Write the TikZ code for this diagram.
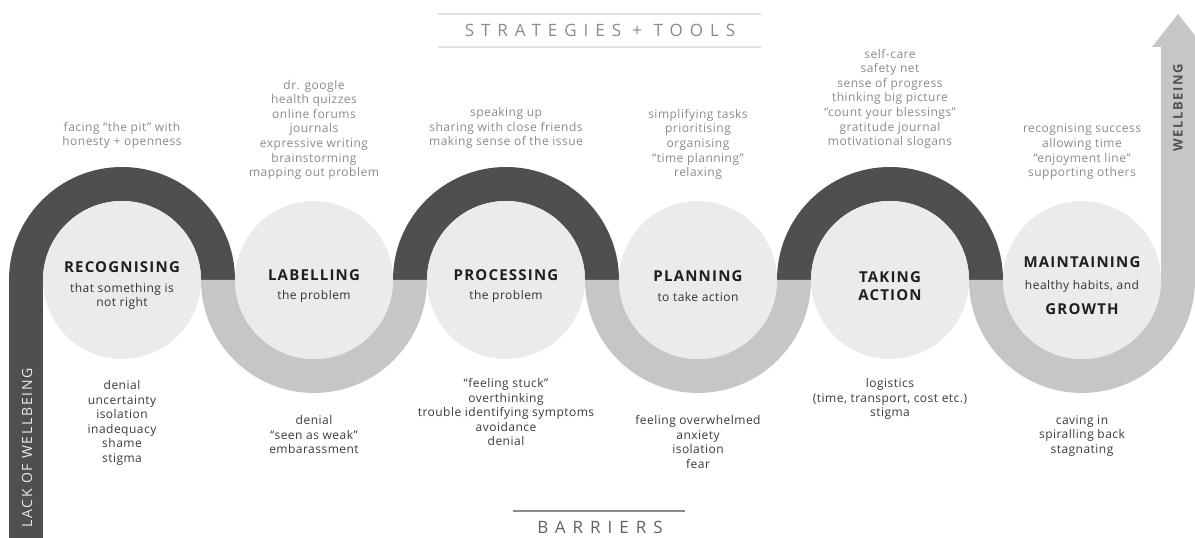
\documentclass[tikz,border=0pt]{standalone}
\usepackage{fontspec}
\setmainfont{Open Sans}[LetterSpace=4]
\newfontfamily\titlefont[LetterSpace=8]{Open Sans}
\newfontfamily\bannerfont[LetterSpace=41]{Open Sans}
\newfontfamily\sidefont[LetterSpace=12]{Open Sans}
\usetikzlibrary{positioning, backgrounds}

\definecolor{bandDark}{HTML}{4F4F4F}
\definecolor{bandLight}{HTML}{C6C6C6}
\definecolor{stageFill}{HTML}{EBEBEB}
\definecolor{toolText}{HTML}{8A8A8A}
\definecolor{barrierText}{HTML}{3A3A3A}
\definecolor{subText}{HTML}{333333}
\definecolor{ruleLight}{HTML}{E3E3E3}
\definecolor{ruleDark}{HTML}{8C8C8C}

\newcommand{\stagetitle}[1]{{\titlefont\fontsize{15}{16}\selectfont\bfseries\color{black!88}#1}}

\begin{document}
\begin{tikzpicture}[x=1pt, y=1pt, node distance={192pt},
    stage/.style = {circle, fill=stageFill, minimum size=158pt, inner sep=0pt},
    caption/.style = {align=center, yshift=-6pt, text=subText, font=\fontsize{12}{14.5}\selectfont},
    tools/.style = {align=center, inner sep=0pt, text=toolText, font=\fontsize{12}{14.6}\selectfont},
    barrier/.style = {align=center, inner sep=0pt, text=barrierText, font=\fontsize{12}{14.6}\selectfont},
    banner/.style = {font=\bannerfont\fontsize{17}{17}\selectfont}]
    \useasboundingbox (0,0) rectangle (1195,538);
    \clip (0,0) rectangle (1195,538);

    % the six stages
    \node[stage, label={[caption]center:{\stagetitle{RECOGNISING}\\[5pt]that something is\\not right}}] (recog) at (122,258) {};
    \node[stage, label={[caption]center:{\stagetitle{LABELLING}\\[5pt]the problem}}] (label) [right of=recog] {};
    \node[stage, label={[caption]center:{\stagetitle{PROCESSING}\\[5pt]the problem}}] (proc) [right of=label] {};
    \node[stage, label={[caption]center:{\stagetitle{PLANNING}\\[5pt]to take action}}] (plan) [right of=proc] {};
    \node[stage, label={[caption]center:{\stagetitle{TAKING}\\[3pt]\stagetitle{ACTION}}}] (act) [right of=plan] {};
    \node[stage, label={[caption]center:{\stagetitle{MAINTAINING}\\[7pt]healthy habits, and\\[11pt]\stagetitle{GROWTH}}}] (grow) [right of=act] {};

    % the path winding over and under the stages
    \begin{scope}[on background layer]
        \foreach \s in {recog, proc, act}
            \fill[bandDark] ([xshift=113pt]\s.center) arc[start angle=0, end angle=180, radius=113] -- ++(34,0) arc[start angle=180, end angle=0, radius=79] -- cycle;
        \foreach \s in {label, plan, grow}
            \fill[bandLight] ([xshift=-113pt]\s.center) arc[start angle=180, end angle=360, radius=113] -- ++(-34,0) arc[start angle=0, end angle=-180, radius=79] -- cycle;
        \fill[bandDark] ([xshift=-113pt]recog.center) rectangle ++(34,-260);
        \fill[bandLight] ([xshift=79pt]grow.center) -- ++(0,233) -- ++(-9,0) -- ++(26,33) -- ++(26,-33) -- ++(-9,0) -- ++(0,-233) -- cycle;
    \end{scope}

    % strategies above
    \node[tools, above=52pt of recog] (recogTools) {facing “the pit” with\\honesty + openness};
    \node[tools, above=21pt of label] (labelTools) {dr. google\\health quizzes\\online forums\\journals\\expressive writing\\brainstorming\\mapping out problem};
    \node[tools, above=52pt of proc] (procTools) {speaking up\\sharing with close friends\\making sense of the issue};
    \node[tools, above=21pt of plan] (planTools) {simplifying tasks\\prioritising\\organising\\“time planning”\\relaxing};
    \node[tools, above=52pt of act] (actTools) {self-care\\safety net\\sense of progress\\thinking big picture\\“count your blessings”\\gratitude journal\\motivational slogans};
    \node[tools, above=21pt of grow] (growTools) {recognising success\\allowing time\\“enjoyment line”\\supporting others};

    % barriers below
    \node[barrier, below=21pt of recog] (recogBar) {denial\\uncertainty\\isolation\\inadequacy\\shame\\stigma};
    \node[barrier, below=56pt of label] (labelBar) {denial\\“seen as weak”\\embarassment};
    \node[barrier, below=19pt of proc] (procBar) {“feeling stuck”\\overthinking\\trouble identifying symptoms\\avoidance\\denial};
    \node[barrier, below=56pt of plan] (planBar) {feeling overwhelmed\\anxiety\\isolation\\fear};
    \node[barrier, below=19pt of act] (actBar) {logistics\\(time, transport, cost etc.)\\stigma};
    \node[barrier, below=56pt of grow] (growBar) {caving in\\spiralling back\\stagnating};

    % headings
    \node[banner, text=toolText] (tools) at (600,508) {STRATEGIES + TOOLS};
    \draw[ruleLight, line width=1.6pt] (438,524) -- (761,524);
    \draw[ruleLight, line width=1.6pt] (438,491) -- (761,491);
    \node[banner, text=barrierText!80] (barriers) at (600,11) {BARRIERS};
    \draw[ruleDark, line width=1.4pt] (513,27) -- (685,27);

    \node[rotate=90, text=white!92!black, font=\sidefont\fontsize{14}{14}\selectfont] (lack) at (27,90) {LACK OF WELLBEING};
    \node[rotate=90, text=black!68, font=\sidefont\fontsize{13}{13}\selectfont\bfseries] (well) at (1178,430) {WELLBEING};
\end{tikzpicture}
\end{document}
